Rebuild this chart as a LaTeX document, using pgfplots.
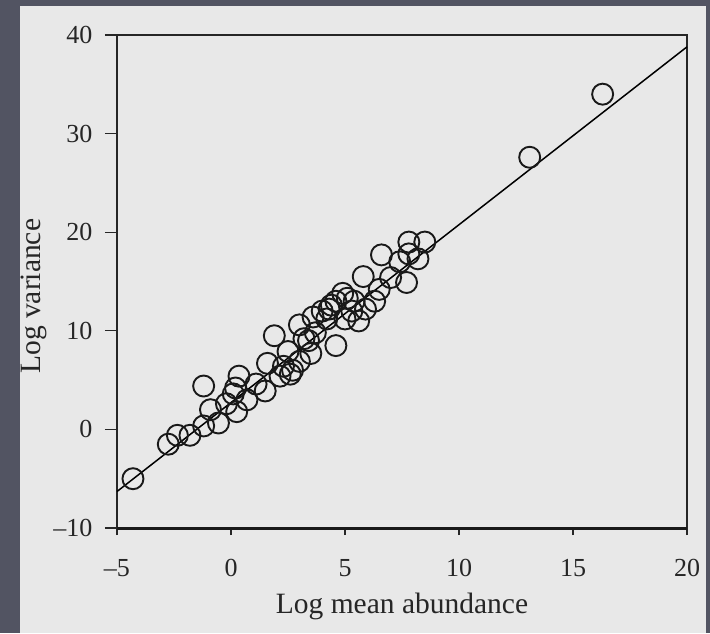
\documentclass[border=0pt]{standalone}
\usepackage{pgfplots}
\pgfplotsset{compat=1.18}
\usepackage{fontspec}
\setmainfont{Liberation Serif}
\definecolor{frame}{RGB}{82,84,98}
\definecolor{panel}{RGB}{232,232,232}
\pgfplotstableread{
x y
-4.3 -5.0
-2.75 -1.5
-2.35 -0.6
-1.8 -0.6
-1.2 4.4
-1.2 0.35
-0.9 2.0
-0.55 0.65
-0.2 2.6
0.25 1.8
0.35 5.4
0.2 4.2
0.1 3.6
0.7 3.0
1.1 4.6
1.5 3.9
1.6 6.7
1.9 9.5
2.15 5.4
2.6 5.6
2.5 7.9
2.3 6.4
2.7 6.0
3.0 6.9
3.0 10.6
3.2 9.2
3.4 9.0
3.5 7.7
3.6 11.4
3.7 9.8
4.0 12.0
4.2 11.2
4.3 12.2
4.4 12.6
4.6 8.5
4.6 13.0
4.9 13.8
5.0 11.2
5.1 13.3
5.3 12.0
5.4 13.0
5.6 11.0
5.9 12.2
5.8 15.5
6.3 13.0
6.5 14.2
6.6 17.7
7.0 15.4
7.4 17.0
7.7 14.9
7.8 17.8
7.8 19.0
8.2 17.3
8.5 19.0
13.1 27.6
16.3 34.0
}\pts
\begin{document}
\begin{tikzpicture}[x=1pt,y=1pt]
\fill[frame] (0,0) rectangle (710,633);
\fill[panel] (20,0) rectangle (706,626.5);
\begin{axis}[at={(117pt,105pt)}, anchor=south west, scale only axis,
  width=570pt, height=493pt,
  xmin=-5, xmax=20, ymin=-10, ymax=40,
  xtick={-5,0,5,10,15,20}, ytick={-10,0,10,20,30,40},
  xticklabels={\textendash5,0,5,10,15,20},
  yticklabels={\textendash10,0,10,20,30,40},
  axis line style={line width=1.6pt, black!85},
  xtick pos=bottom, ytick pos=left, tick align=outside,
  major tick length=12pt,
  ytick style={black!85, line width=1.3pt},
  xtick style={black!85, line width=2pt, /pgfplots/major tick length=7pt},
  ticklabel style={font=\fontsize{26}{28}\selectfont, text=black!85},
  xticklabel style={yshift=-16pt},
  yticklabel style={xshift=-9pt},
  label style={font=\fontsize{29.5}{31}\selectfont, text=black!85},
  xlabel={Log mean abundance}, ylabel={Log variance},
  xlabel style={at={(axis description cs:0.5,0)}, anchor=base, yshift=-85pt},
  ylabel style={at={(axis description cs:-0.1456,0.47)}, anchor=center, rotate=0},
  clip=false,
]
\draw[line width=3pt, black!90] (rel axis cs:0,0) -- (rel axis cs:1,0);
\addplot[black, line width=1.5pt, no marks] coordinates {(-5,-6.3) (20,38.8)};
\addplot[only marks, mark=o, mark size=10.5pt, mark options={line width=1.9pt, black!90}] table[x=x,y=y] {\pts};
\end{axis}
\end{tikzpicture}
\end{document}
